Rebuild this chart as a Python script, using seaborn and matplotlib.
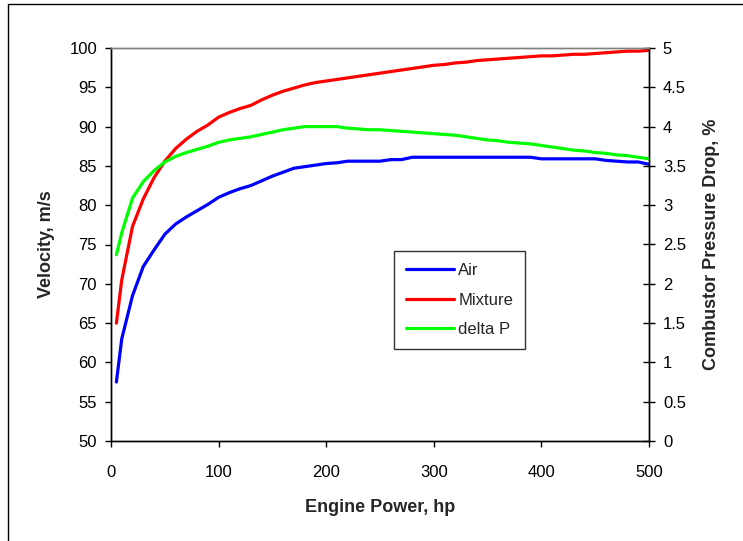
import matplotlib
matplotlib.use("Agg")
import matplotlib.pyplot as plt
from matplotlib.patches import Rectangle
import numpy as np
import pandas as pd
import seaborn as sns

# Engine power (hp)
power = [5, 10, 20, 30, 40, 50, 60, 70, 80, 90, 100,
         110, 120, 130, 140, 150, 160, 170, 180, 190, 200,
         210, 220, 230, 240, 250, 260, 270, 280, 290, 300,
         310, 320, 330, 340, 350, 360, 370, 380, 390, 400,
         410, 420, 430, 440, 450, 460, 470, 480, 490, 500]

# Air velocity (m/s)
air = [57.5, 63.0, 68.5, 72.2, 74.3, 76.3, 77.6, 78.5, 79.3, 80.1, 81.0,
       81.6, 82.1, 82.5, 83.1, 83.7, 84.2, 84.7, 84.9, 85.1, 85.3,
       85.4, 85.6, 85.6, 85.6, 85.6, 85.8, 85.8, 86.1, 86.1, 86.1,
       86.1, 86.1, 86.1, 86.1, 86.1, 86.1, 86.1, 86.1, 86.1, 85.9,
       85.9, 85.9, 85.9, 85.9, 85.9, 85.7, 85.6, 85.5, 85.5, 85.2]

# Mixture velocity (m/s)
mixture = [65.0, 70.5, 77.3, 80.8, 83.5, 85.6, 87.2, 88.4, 89.4, 90.2, 91.2,
           91.8, 92.3, 92.7, 93.4, 94.0, 94.5, 94.9, 95.3, 95.6, 95.8,
           96.0, 96.2, 96.4, 96.6, 96.8, 97.0, 97.2, 97.4, 97.6, 97.8,
           97.9, 98.1, 98.2, 98.4, 98.5, 98.6, 98.7, 98.8, 98.9, 99.0,
           99.0, 99.1, 99.2, 99.2, 99.3, 99.4, 99.5, 99.6, 99.6, 99.7]

# Combustor pressure drop (%)
delta_p = [2.37, 2.65, 3.09, 3.30, 3.44, 3.55, 3.62, 3.67, 3.71, 3.75, 3.80,
           3.83, 3.85, 3.87, 3.90, 3.93, 3.96, 3.98, 4.00, 4.00, 4.00,
           4.00, 3.98, 3.97, 3.96, 3.96, 3.95, 3.94, 3.93, 3.92, 3.91,
           3.90, 3.89, 3.87, 3.85, 3.83, 3.82, 3.80, 3.79, 3.78, 3.76,
           3.74, 3.72, 3.70, 3.69, 3.67, 3.66, 3.64, 3.63, 3.61, 3.59]

x_ticks = [0, 100, 200, 300, 400, 500]
vel_ticks = [50, 55, 60, 65, 70, 75, 80, 85, 90, 95, 100]
dp_ticks = [0, 0.5, 1, 1.5, 2, 2.5, 3, 3.5, 4, 4.5, 5]
dp_tick_labels = ["0", "0.5", "1", "1.5", "2", "2.5", "3", "3.5", "4", "4.5", "5"]

sns.set_style("white")
plt.rcParams["font.family"] = ["Liberation Sans", "DejaVu Sans"]
plt.rcParams["axes.linewidth"] = 1.0

df = pd.DataFrame({"power": power, "Air": air, "Mixture": mixture, "delta P": delta_p})

fig = plt.figure(figsize=(7.43, 5.41), dpi=100)
ax = fig.add_axes([111 / 743, 1 - 441 / 541, 538 / 743, 393 / 541])
ax2 = ax.twinx()

sns.lineplot(data=df, x="power", y="Air", ax=ax, color="#0000FF", lw=2.3, label="Air", legend=False)
sns.lineplot(data=df, x="power", y="Mixture", ax=ax, color="#FF0000", lw=2.3, label="Mixture", legend=False)
sns.lineplot(data=df, x="power", y="delta P", ax=ax2, color="#00FF00", lw=2.3, label="delta P", legend=False)

ax.set_xlim(0, 500)
ax.set_ylim(50, 100)
ax2.set_ylim(0, 5)
ax.set_xticks(x_ticks)
ax.set_yticks(vel_ticks)
ax2.set_yticks(dp_ticks)
ax2.set_yticklabels(dp_tick_labels)

for a in (ax, ax2):
    for side in ("left", "bottom", "right"):
        a.spines[side].set_color("black")
        a.spines[side].set_linewidth(1.0)
    a.spines["top"].set_color("#808080")
    a.spines["top"].set_linewidth(1.0)

ax.tick_params(axis="y", direction="out", length=4.5, width=1, colors="black",
               labelsize=12, pad=5.5, left=True)
ax.tick_params(axis="x", direction="out", length=4, width=1, colors="black",
               labelsize=12, pad=13, bottom=True)
ax2.tick_params(axis="y", direction="inout", length=8, width=1, colors="black",
                labelsize=12, pad=6, right=True)

ax.set_xlabel("Engine Power, hp", fontsize=13, fontweight="bold", labelpad=14)
ax.set_ylabel("Velocity, m/s", fontsize=13, fontweight="bold", labelpad=10)
ax2.set_ylabel("Combustor Pressure Drop, %", fontsize=13, fontweight="bold", labelpad=12)

handles = ax.get_lines()[:2] + ax2.get_lines()[:1]
leg = ax2.legend(handles, ["Air", "Mixture", "delta P"], loc="upper left",
                 bbox_to_anchor=(0.526, 0.483), borderaxespad=0, frameon=True,
                 fancybox=False, edgecolor="black", fontsize=12, handlelength=2.9,
                 handletextpad=0.25, labelspacing=0.88, borderpad=0.7)
leg.get_frame().set_linewidth(1.0)

# outer chart-area border (open to the right and bottom)
fig.patches.append(Rectangle((8 / 743, -0.5), 2.0, 1.5 - 4 / 541,
                             transform=fig.transFigure, fill=False,
                             edgecolor="black", linewidth=1.0, zorder=0))

fig.savefig("out.png", dpi=100)
